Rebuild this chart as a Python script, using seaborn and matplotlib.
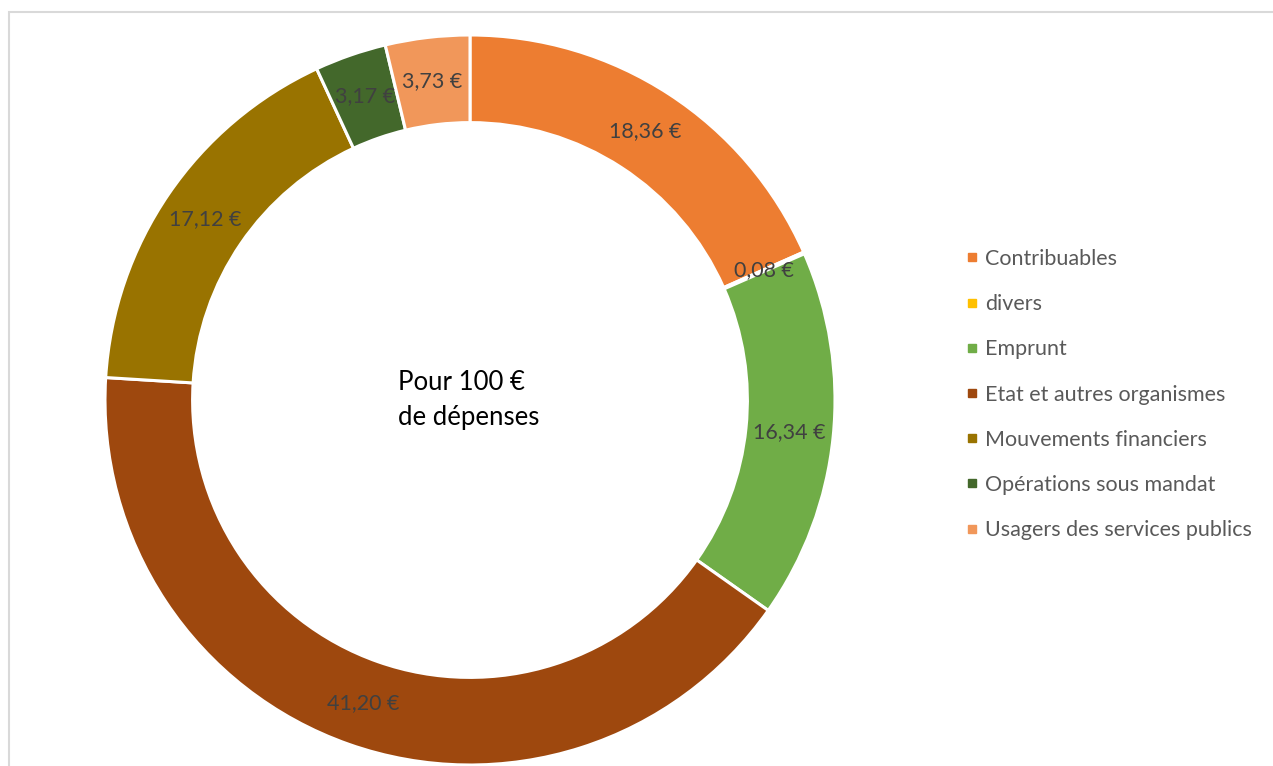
import numpy as np
import seaborn as sns
import matplotlib.pyplot as plt
from matplotlib.lines import Line2D
from matplotlib.patches import Rectangle

categories = ['Contribuables', 'divers', 'Emprunt', 'Etat et autres organismes',
              'Mouvements financiers', 'Opérations sous mandat', 'Usagers des services publics']
values = [18.36, 0.08, 16.34, 41.20, 17.12, 3.17, 3.73]
labels = ['18,36 €', '0,08 €', '16,34 €', '41,20 €', '17,12 €', '3,17 €', '3,73 €']
colors = ['#ED7D31', '#FFC000', '#70AD47', '#9E480E', '#997300', '#43682B', '#F1975A']

sns.set_theme(style='white')
plt.rcParams['font.family'] = ['Lato', 'DejaVu Sans']
palette = sns.color_palette(colors)

fig = plt.figure(figsize=(12.73, 7.66), dpi=100)
fig.patch.set_facecolor('white')

# chart border (light grey frame)
fig.patches.append(Rectangle((9 / 1273, -0.01), 1.02, 1 - 12 / 766 + 0.01,
                             transform=fig.transFigure, fill=False,
                             edgecolor='#D9D9D9', linewidth=1.5))

W, H = 1273, 766
cx, cy, r = 470, 400, 365
ax = fig.add_axes([(cx - r) / W, (H - cy - r) / H, 2 * r / W, 2 * r / H])

ring = 0.24
wedges, _ = ax.pie(values, colors=palette, startangle=90, counterclock=False, radius=1,
                   wedgeprops=dict(width=ring, edgecolor='white', linewidth=2.2))
ax.set_xlim(-1, 1)
ax.set_ylim(-1, 1)
ax.axis('off')

rm = 1 - ring / 2
for w, lab in zip(wedges, labels):
    ang = np.deg2rad((w.theta1 + w.theta2) / 2)
    ax.text(rm * np.cos(ang), rm * np.sin(ang), lab, ha='center', va='center',
            fontsize=15.5, color='#404040')

fig.text(398 / W, 1 - 383 / H, 'Pour 100 €', fontsize=18.5, color='black', ha='left', va='center')
fig.text(398 / W, 1 - 418 / H, 'de dépenses', fontsize=18.5, color='black', ha='left', va='center')

handles = [Line2D([], [], marker='s', linestyle='', markersize=6, color=c) for c in palette]
leg = fig.legend(handles, categories, loc='upper left', bbox_to_anchor=(966 / W, 1 - 249 / H),
                 frameon=False, fontsize=15.5, labelspacing=1.17, handlelength=0.55,
                 handletextpad=0.35, borderaxespad=0, borderpad=0)
for t in leg.get_texts():
    t.set_color('#595959')

fig.savefig('out.png', dpi=100, facecolor='white')
